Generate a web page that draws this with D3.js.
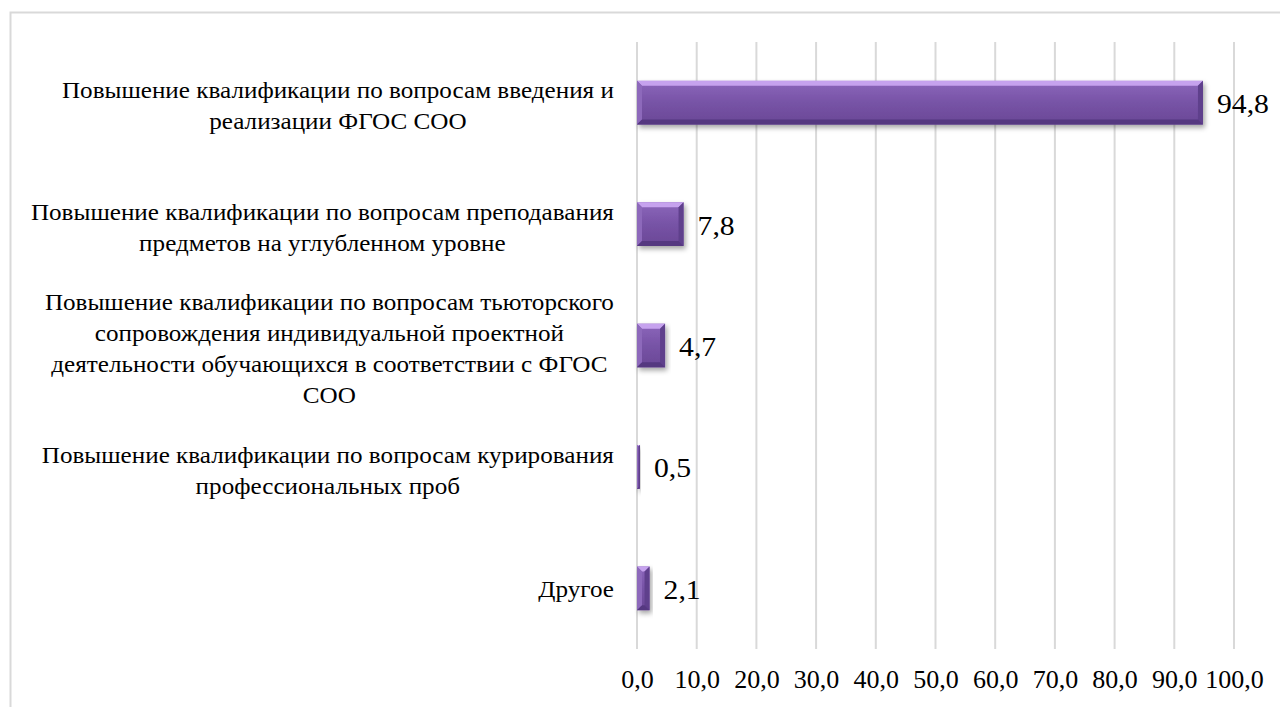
<!DOCTYPE html>
<meta charset="utf-8">
<style>
body { margin: 0; background: #fff; }
</style>
<body>
<script src="https://d3js.org/d3.v7.min.js"></script>
<script>

// categories, one string per item, "\n" where the picture breaks the line
var categories = [
  "Повышение квалификации по вопросам введения и\nреализации ФГОС СОО",
  "Повышение квалификации по вопросам преподавания\nпредметов на углубленном уровне",
  "Повышение квалификации по вопросам тьюторского\nсопровождения индивидуальной проектной\nдеятельности обучающихся в соответствии с ФГОС\nСОО",
  "Повышение квалификации по вопросам курирования\nпрофессиональных проб",
  "Другое"
];
var values = [94.8, 7.8, 4.7, 0.5, 2.1];
var ticks = [0, 10, 20, 30, 40, 50, 60, 70, 80, 90, 100];

var width = 1280,
    height = 707;
var serif = "'Liberation Serif'";

var fmt = function(d) { return d3.format(".1f")(d).replace(".", ","); };

var svg = d3.select("body").append("svg")
    .attr("width", width)
    .attr("height", height);

var defs = svg.append("defs");

var grad = defs.append("linearGradient")
    .attr("id", "barFill")
    .attr("x1", 0).attr("y1", 0).attr("x2", 0).attr("y2", 1);
grad.append("stop").attr("offset", "0%").attr("stop-color", "#8c66bb");
grad.append("stop").attr("offset", "50%").attr("stop-color", "#7753a6");
grad.append("stop").attr("offset", "100%").attr("stop-color", "#6a4896");

var shadow = defs.append("filter")
    .attr("id", "shadow")
    .attr("x", "-20%").attr("y", "-20%")
    .attr("width", "140%").attr("height", "160%");
shadow.append("feDropShadow")
    .attr("dx", 2).attr("dy", 3)
    .attr("stdDeviation", 2.5)
    .attr("flood-color", "#000")
    .attr("flood-opacity", 0.35);

// outer frame (runs off the right and bottom edge)
svg.append("rect")
    .attr("x", 10.5).attr("y", 12.5)
    .attr("width", width).attr("height", height)
    .attr("fill", "none")
    .attr("stroke", "#d9d9d9")
    .attr("stroke-width", 2);

var x = d3.scaleLinear().domain([0, 100]).range([637, 1234]);
var y = d3.scaleBand().domain(d3.range(categories.length)).range([42, 649]).paddingInner(0.64).paddingOuter(0.32);

// gridlines
svg.append("g").selectAll("line")
  .data(ticks)
  .enter().append("line")
    .attr("x1", function(d) { return x(d); })
    .attr("x2", function(d) { return x(d); })
    .attr("y1", 42)
    .attr("y2", 649)
    .attr("stroke", "#d9d9d9")
    .attr("stroke-width", 2);

// axis labels
var xAxis = d3.axisBottom(x)
    .tickValues(ticks)
    .tickSize(0)
    .tickPadding(0)
    .tickFormat(fmt);

var ax = svg.append("g")
    .attr("transform", "translate(0,668)")
    .call(xAxis);
ax.select(".domain").remove();
ax.selectAll("text")
    .attr("dy", 0)
    .attr("y", 20)
    .attr("fill", "#000")
    .style("font-family", serif)
    .style("font-size", "26px");

// bars
var bars = svg.append("g").selectAll("g")
  .data(values)
  .enter().append("g")
    .attr("filter", "url(#shadow)");

bars.each(function(d, i) {
  var g = d3.select(this);
  var x0 = x(0), x1 = x(d), y0 = y(i), y1 = y(i) + y.bandwidth();
  var w = x1 - x0;
  var b = Math.min(5, w / 2);
  g.append("rect")
      .attr("x", x0).attr("y", y0)
      .attr("width", w).attr("height", y1 - y0)
      .attr("fill", "url(#barFill)");
  // bevel edges
  g.append("polygon")
      .attr("points", [[x0, y0], [x1, y0], [x1 - b, y0 + b], [x0 + b, y0 + b]].join(" "))
      .attr("fill", "#c6a2ee");
  g.append("polygon")
      .attr("points", [[x0, y0], [x0 + b, y0 + b], [x0 + b, y1 - b], [x0, y1]].join(" "))
      .attr("fill", "#8d69bb");
  g.append("polygon")
      .attr("points", [[x1, y0], [x1, y1], [x1 - b, y1 - b], [x1 - b, y0 + b]].join(" "))
      .attr("fill", "#5f3f8c");
  g.append("polygon")
      .attr("points", [[x0, y1], [x1, y1], [x1 - b, y1 - b], [x0 + b, y1 - b]].join(" "))
      .attr("fill", "#553780");
});

// value labels
svg.append("g").selectAll("text")
  .data(values)
  .enter().append("text")
    .attr("transform", function(d, i) {
      return "translate(" + (x(d) + 14) + "," + (y(i) + y.bandwidth() / 2 + 1) + ") scale(1.1,1)";
    })
    .attr("dy", "0.35em")
    .style("font-family", serif)
    .style("font-size", "27px")
    .text(fmt);

// category labels, lines centred, block right-aligned
var labelRight = 614, lineH = 31, sx = 1.07;
var labels = svg.append("g").selectAll("text")
  .data(categories)
  .enter().append("text")
    .style("font-family", serif)
    .style("font-size", "23.5px")
    .attr("text-anchor", "middle");

labels.each(function(d, i) {
  var t = d3.select(this);
  var lines = d.split("\n");
  var cy = y(i) + y.bandwidth() / 2 + (lines.length > 1 ? 3 : 0);
  lines.forEach(function(s, k) {
    t.append("tspan")
        .attr("x", 0)
        .attr("y", (k - (lines.length - 1) / 2) * lineH)
        .attr("dy", "0.35em")
        .text(s);
  });
  var maxW = d3.max(t.selectAll("tspan").nodes(), function(n) { return n.getComputedTextLength(); });
  t.attr("transform", "translate(" + (labelRight - maxW * sx / 2) + "," + cy + ") scale(" + sx + ",1)");
});

</script>
